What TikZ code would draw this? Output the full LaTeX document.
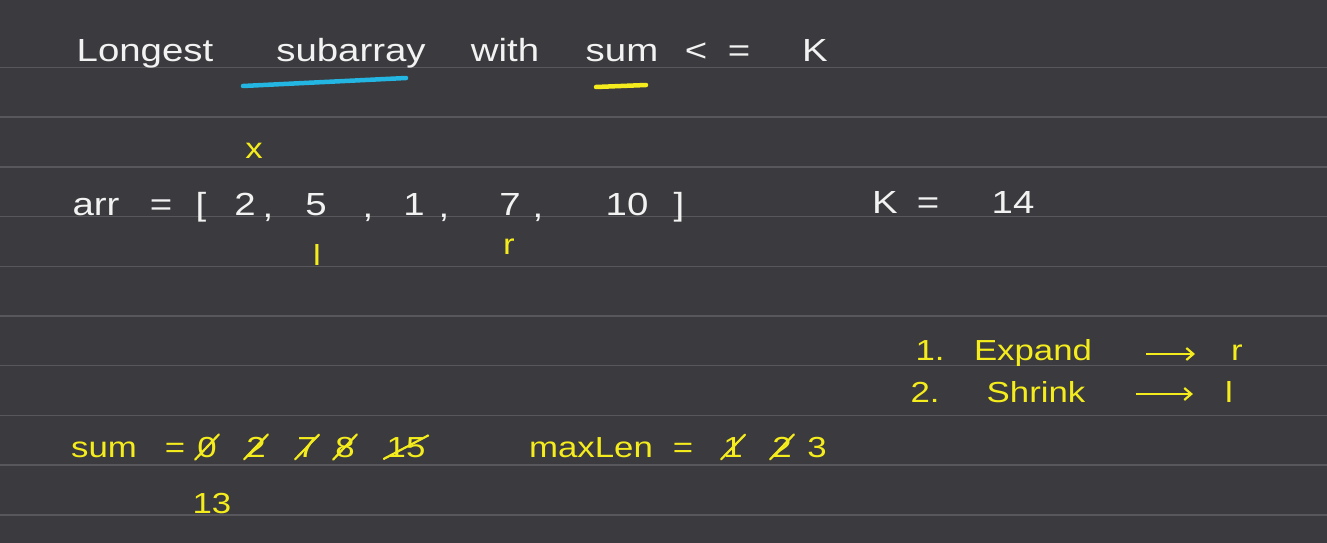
\documentclass[tikz,border=0pt]{standalone}
\usepackage{fontspec}
\setmainfont{Liberation Sans}[FakeStretch=1.2]
\usepackage{xcolor}
\usetikzlibrary{arrows.meta, positioning}
\definecolor{board}{HTML}{3B3A3E}
\definecolor{ruling}{HTML}{58575C}
\definecolor{chalkwhite}{HTML}{F2F2F2}
\definecolor{penyellow}{HTML}{F4EC1C}
\definecolor{pencyan}{HTML}{24B6E2}

\begin{document}
\begin{tikzpicture}[x=1pt, y=-1pt,
  chalk/.style={text=chalkwhite, font=\fontsize{32}{34}\selectfont, inner sep=0pt, anchor=base},
  pen/.style={text=penyellow, font=\fontsize{29}{31}\selectfont, inner sep=0pt, anchor=base},
  strike/.style={draw=penyellow, line width=2.2pt, line cap=round, shorten <=-3pt, shorten >=-3pt},
  pointer/.style={draw=penyellow, line width=2.2pt, -{Straight Barb[length=7pt,width=12pt]}}]
  \useasboundingbox (0,0) rectangle (1327,543);
  \fill[board] (0,0) rectangle (1327,543);
  \foreach \k in {0,...,9}
    \draw[ruling, line width=1.5pt] (0,{67.5+49.7*\k}) -- (1327,{67.5+49.7*\k});
  % title
  \node[chalk] (longest) at (145,62) {Longest};
  \node[chalk] (subarr) at (351,62) {subarray};
  \node[chalk] (with) at (505,62) {with};
  \node[chalk] (sumword) at (622,62) {sum};
  \node[chalk] (lt) at (696,62) {<};
  \node[chalk] (eq) at (739,62) {=};
  \node[chalk] (kword) at (815,62) {K};
  \draw[pencyan, line width=4.5pt, line cap=round] (243,86) -- (406,78);
  \draw[penyellow, line width=4.5pt, line cap=round] (596,87) -- (646,85);
  % the array
  \node[chalk] (arr) at (96,215) {arr};
  \node[chalk] (arreq) at (161,215) {=};
  \node[chalk] (lbr) at (201,215) {[};
  \foreach \v/\x [count=\i from 0] in {2/245, 5/316, 1/414, 7/510, 10/627}
    \node[chalk] (e\i) at (\x,215) {\v};
  \foreach \x [count=\i] in {268, 368, 444, 538}
    \node[chalk] (c\i) at (\x,217) {,};
  \node[chalk] (rbr) at (679,215) {]};
  \node[chalk] (k) at (885,213) {K};
  \node[chalk] (keq) at (928,213) {=};
  \node[chalk] (kval) at (1013,213) {14};
  \node[pen] (cross) at (254,158) {x};
  \node[pen] (lptr) at (317,265) {l};
  \node[pen] (rptr) at (509,254) {r};
  % steps
  \node[pen] (n1) at (930,360) {1.};
  \node[pen] (expand) at (1033,360) {Expand};
  \node[pen] (r1) at (1237,360) {r};
  \node[pen] (n2) at (925,402) {2.};
  \node[pen] (shrink) at (1036,402) {Shrink};
  \node[pen] (l1) at (1229,402) {l};
  \draw[pointer, shorten <=54pt, shorten >=36pt] ([yshift=6pt]expand.base east) -- ([yshift=6pt]r1.base west);
  \draw[pointer, shorten <=50pt, shorten >=32pt] ([yshift=8pt]shrink.base east) -- ([yshift=8pt]l1.base west);
  % running sum and best length
  \node[pen] (sum) at (104,457) {sum};
  \node[pen] (sumeq) at (175,457) {=};
  \foreach \v/\x [count=\i from 0] in {0/207, 2/256, 7/307, 8/345, 15/406}
    \node[pen] (s\i) at (\x,457) {\v};
  \foreach \i in {0,...,4}
    \draw[strike] (s\i.south west) -- (s\i.north east);
  \node[pen] (snew) at (212,513) {13};
  \node[pen] (maxlen) at (591,457) {maxLen};
  \node[pen] (maxeq) at (683,457) {=};
  \node[pen] (m1) at (733,457) {1};
  \node[pen] (m2) at (782,457) {2};
  \node[pen] (m3) at (817,457) {3};
  \draw[strike] (m1.south west) -- (m1.north east);
  \draw[strike] (m2.south west) -- (m2.north east);
\end{tikzpicture}
\end{document}
